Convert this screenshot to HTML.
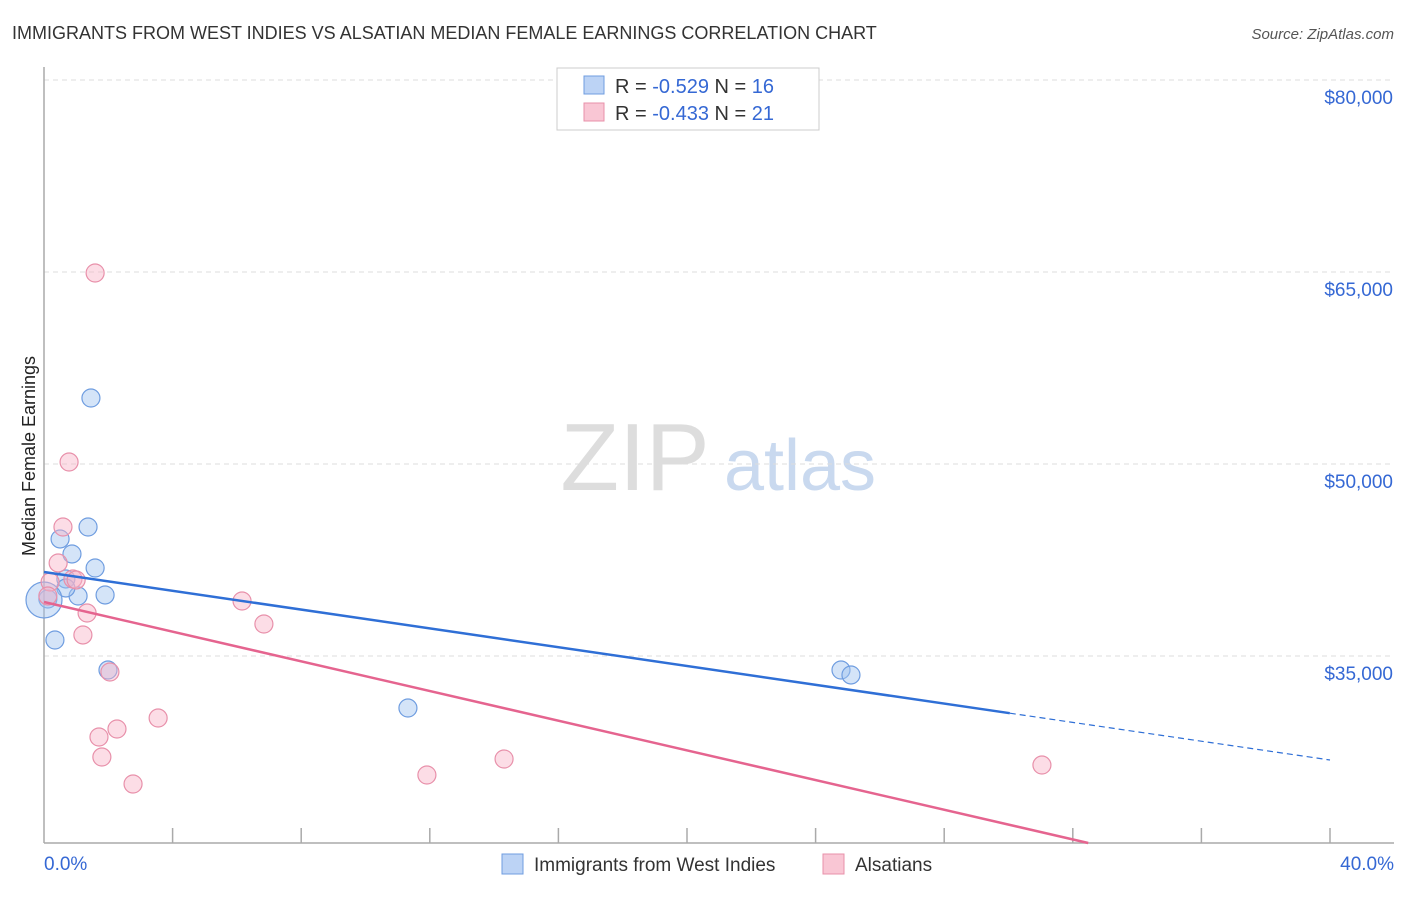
<!DOCTYPE html>
<html><head><meta charset="utf-8"><style>
body{margin:0;background:#fff;font-family:"Liberation Sans",sans-serif;}
svg text{font-family:"Liberation Sans",sans-serif;}
</style></head><body>
<svg id="chart" width="1406" height="892">
<text x="12" y="39" font-size="18" fill="#333">IMMIGRANTS FROM WEST INDIES VS ALSATIAN MEDIAN FEMALE EARNINGS CORRELATION CHART</text>
<text x="1394" y="39" font-size="15" fill="#555" text-anchor="end" font-style="italic">Source: ZipAtlas.com</text>
<text x="35" y="456" font-size="18" fill="#222" text-anchor="middle" transform="rotate(-90 35 456)">Median Female Earnings</text>
<g><text x="635" y="490" font-size="96" fill="#ddd" text-anchor="middle" font-family="Liberation Serif">ZIP</text><text x="800" y="490" font-size="72" fill="#c9d9ef" text-anchor="middle">atlas</text></g>
<g id="grid"></g><g id="axes"></g><g id="pts"></g><g id="lines"></g>
<g>
<rect x="557" y="68" width="262" height="62" fill="#fff" stroke="#ccc"/>
<rect x="584" y="76" width="20" height="18" fill="#bcd3f5" stroke="#6f9de0"/>
<text x="615" y="93" font-size="20" fill="#333">R = <tspan fill="#3568d4">-0.529</tspan>   N = <tspan fill="#3568d4">16</tspan></text>
<rect x="584" y="103" width="20" height="18" fill="#f9c6d4" stroke="#e890aa"/>
<text x="615" y="120" font-size="20" fill="#333">R = <tspan fill="#3568d4">-0.433</tspan>   N = <tspan fill="#3568d4">21</tspan></text>
</g>
<g>
<rect x="502" y="854" width="21" height="20" fill="#bcd3f5" stroke="#6f9de0"/>
<text x="534" y="871" font-size="19" fill="#333">Immigrants from West Indies</text>
<rect x="823" y="854" width="21" height="20" fill="#f9c6d4" stroke="#e890aa"/>
<text x="855" y="871" font-size="19" fill="#333">Alsatians</text>
</g>
</svg>
<script>
const yTicks=[80000,65000,50000,35000];
const yTickLabels=["$80,000","$65,000","$50,000","$35,000"];
const xLabels=["0.0%","40.0%"];
const blueX=[0.12,0.34,0.5,0.68,0.87,1.06,1.37,1.46,1.59,1.9,1.99,11.32,24.79,25.1,0.68,0.0];
const blueY=[39453,36250,44141,41016,42969,39687,45078,55156,41875,39766,33906,30937,33906,33516,40313,39375];
const pinkX=[1.59,0.78,0.59,0.44,0.9,0.19,1.34,1.21,2.05,6.16,6.84,3.55,2.27,1.71,1.8,2.77,11.91,14.31,31.04,0.12,1.0];
const pinkY=[64922,50156,45078,42266,41016,40781,38359,36641,33750,39297,37500,30156,29297,28672,27109,25000,25703,26953,26484,39688,40938];
const blueTrend=[41563,26875];
const pinkTrend=[39219,16031];
const blueSolidEnd=30.04;
const NS="http://www.w3.org/2000/svg";
const X=p=>44+p/40*1286;
const Y=v=>80+(80000-v)*192/15000;
function mk(t,a,parent){const e=document.createElementNS(NS,t);for(const k in a)e.setAttribute(k,a[k]);parent.appendChild(e);return e;}
const grid=document.getElementById('grid'),axes=document.getElementById('axes'),pts=document.getElementById('pts'),lines=document.getElementById('lines');
yTicks.forEach((v,i)=>{
 const l=mk('line',{x1:44,x2:1394,y1:Y(v),y2:Y(v),stroke:'#ddd','stroke-dasharray':'5,4'},grid);
 
 
 const t=mk('text',{x:1393,y:Y(v)+24,'font-size':19,fill:'#3568d4','text-anchor':'end'},axes);
 t.textContent=yTickLabels[i];
 
 
});
const ya=mk('line',{x1:44,x2:44,y1:67,y2:843,stroke:'#aaa','stroke-width':1.5},axes);


const xa=mk('line',{x1:44,x2:1394,y1:843,y2:843,stroke:'#aaa','stroke-width':1.5},axes);


for(let p=4;p<=40;p+=4){const tk=mk('line',{x1:X(p),x2:X(p),y1:828,y2:843,stroke:'#aaa','stroke-width':1.5},axes);
 
 }
[[0,'start',44],[40,'end',1394]].forEach((d,i)=>{const t=mk('text',{x:d[2],y:870,'font-size':19,fill:'#3568d4','text-anchor':d[1]},axes);t.textContent=xLabels[i];
 
 });
blueX.forEach((x,i)=>{const big=i===blueX.length-1;const c=mk('circle',{cx:X(x),cy:Y(blueY[i]),r:big?18:9,fill:'rgba(160,195,240,0.45)',stroke:'#6f9de0','stroke-width':1.2},pts);
 
 });
pinkX.forEach((x,i)=>{const c=mk('circle',{cx:X(x),cy:Y(pinkY[i]),r:9,fill:'rgba(248,180,200,0.45)',stroke:'#e890aa','stroke-width':1.2},pts);
 
 });
const bAt=p=>blueTrend[0]+(blueTrend[1]-blueTrend[0])*p/40;
const b1=mk('line',{x1:X(0),y1:Y(bAt(0)),x2:X(blueSolidEnd),y2:Y(bAt(blueSolidEnd)),stroke:'#2f6fd6','stroke-width':2.5},lines);


const b2=mk('line',{x1:X(blueSolidEnd),y1:Y(bAt(blueSolidEnd)),x2:X(40),y2:Y(bAt(40)),stroke:'#2f6fd6','stroke-width':1.2,'stroke-dasharray':'6,4'},lines);


const pAt=p=>pinkTrend[0]+(pinkTrend[1]-pinkTrend[0])*p/40;
let pe=40;const yb=80000-(843-80)*15000/192;if(pAt(40)<yb)pe=40*(pinkTrend[0]-yb)/(pinkTrend[0]-pinkTrend[1]);
const p1=mk('line',{x1:X(0),y1:Y(pAt(0)),x2:X(pe),y2:Y(pAt(pe)),stroke:'#e5648f','stroke-width':2.5},lines);


</script>
</body></html>
